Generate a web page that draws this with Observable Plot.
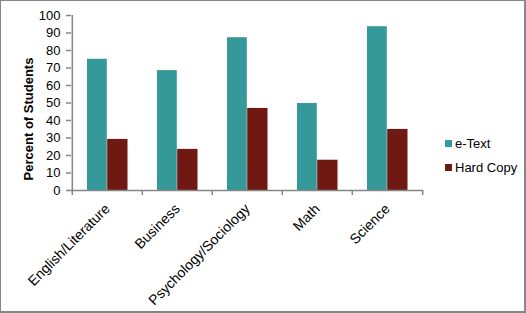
<!DOCTYPE html>
<html>
<head>
<meta charset="utf-8">
<script src="https://cdn.jsdelivr.net/npm/d3@7"></script>
<script src="https://cdn.jsdelivr.net/npm/@observablehq/plot@0.6"></script>
<style>
  html, body { margin: 0; padding: 0; background: #fff; }
  #wrap { position: relative; width: 526px; height: 313px; font-family: "Liberation Sans", Arial, sans-serif; }
  #border { position: absolute; left: 0; top: 0; width: 526px; height: 313px; box-sizing: border-box; border: 1px solid #868686; border-bottom-width: 2px; border-right-width: 2px; pointer-events: none; }
  #legend { position: absolute; left: 445px; top: 131px; font-size: 13px; color: #000; }
  .item { display: flex; align-items: center; height: 24px; }
  .sw { width: 7px; height: 7px; margin-right: 3px; }
</style>
</head>
<body>
<div id="wrap"><div id="chart"></div><div id="legend"></div><div id="border"></div></div>
<script>
const categories = ["English/Literature", "Business", "Psychology/Sociology", "Math", "Science"];
const series = ["e-Text", "Hard Copy"];
const eText = [75, 68.5, 87.3, 49.7, 93.6];
const hardCopy = [29.2, 23.5, 46.9, 17.3, 34.9];
const yTicks = [0, 10, 20, 30, 40, 50, 60, 70, 80, 90, 100];
const colors = ["#35999a", "#701912"];

const W = 526, H = 313, ML = 71, MR = 103, MT = 15, MB = 123;
const bw = (W - ML - MR) / categories.length;
const axisColor = "#868686";

const rowsE = categories.map((c, i) => ({category: c, series: series[0], value: eText[i]}));
const rowsH = categories.map((c, i) => ({category: c, series: series[1], value: hardCopy[i]}));

const chart = Plot.plot({
  width: W, height: H,
  marginLeft: ML, marginRight: MR, marginTop: MT, marginBottom: MB,
  style: {fontFamily: "'Liberation Sans', Arial, sans-serif", fontSize: "13px", color: "#000", background: "transparent"},
  x: {type: "band", domain: categories, paddingInner: 0, paddingOuter: 0, axis: null},
  y: {domain: [0, 100], axis: null},
  color: {domain: series, range: colors},
  marks: [
    Plot.barY(rowsE, {x: "category", y: "value", fill: "series", insetLeft: 15, insetRight: bw / 2}),
    Plot.barY(rowsH, {x: "category", y: "value", fill: "series", insetLeft: bw / 2, insetRight: 14.5}),
    Plot.ruleY([0], {stroke: axisColor, strokeWidth: 1.5}),
    Plot.ruleX([categories[0]], {dx: -bw / 2, y1: 0, y2: 100, stroke: axisColor, strokeWidth: 1.5}),
    Plot.axisY({ticks: yTicks, label: null, tickSize: 5, tickPadding: 6, stroke: axisColor, strokeWidth: 1.5, fontSize: 13, color: "#000"}),
    Plot.axisX({label: null, tickSize: 5, tickFormat: () => "", dx: -bw / 2, stroke: axisColor, strokeWidth: 1.5}),
    Plot.axisX({label: null, ticks: [categories[categories.length - 1]], tickSize: 5, tickFormat: () => "", dx: bw / 2, stroke: axisColor, strokeWidth: 1.5}),
    Plot.axisX({label: null, tickSize: 0, tickRotate: -45, tickPadding: 16, fontSize: 14, fill: "#000"}),
    Plot.text(["Percent of Students"], {frameAnchor: "left", dx: -43, dy: 16, rotate: -90, fontWeight: "bold", fontSize: 13, textAnchor: "middle"})
  ]
});
document.getElementById("chart").appendChild(chart);

const legend = document.getElementById("legend");
series.forEach((s, i) => {
  const item = document.createElement("div");
  item.className = "item";
  const sw = document.createElement("span");
  sw.className = "sw";
  sw.style.background = colors[i];
  const t = document.createElement("span");
  t.textContent = s;
  item.appendChild(sw); item.appendChild(t);
  legend.appendChild(item);
});
</script>
</body>
</html>
